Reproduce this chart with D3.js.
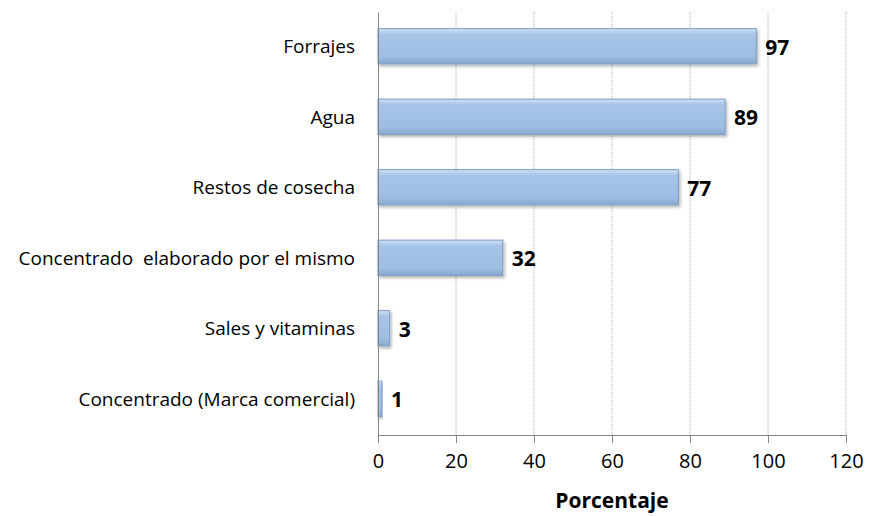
<!DOCTYPE html>
<html>
<head>
<meta charset="utf-8">
<script src="https://cdn.jsdelivr.net/npm/d3@7"></script>
<style>
  body { margin: 0; background: #fff; }
  svg { font-family: "Open Sans", Lato, sans-serif; }
</style>
</head>
<body>
<svg id="chart" width="870" height="516"></svg>
<script>
// categories top to bottom
const categories = [
    "Forrajes",
    "Agua",
    "Restos de cosecha",
    "Concentrado  elaborado por el mismo",
    "Sales y vitaminas",
    "Concentrado (Marca comercial)"
];
const values = [97, 89, 77, 32, 3, 1];
const xTicks = [0, 20, 40, 60, 80, 100, 120];
const xTitle = "Porcentaje";

const svg = d3.select("svg#chart");
const margin = {top: 12, right: 24, bottom: 81, left: 378};
const width = 870 - margin.left - margin.right,
      height = 516 - margin.top - margin.bottom;

const defs = svg.append("defs");
const grad = defs.append("linearGradient")
    .attr("id", "barGrad")
    .attr("x1", 0).attr("y1", 0).attr("x2", 0).attr("y2", 1);
grad.append("stop").attr("offset", "0%").attr("stop-color", "#d0e2f5");
grad.append("stop").attr("offset", "15%").attr("stop-color", "#a8c5e8");
grad.append("stop").attr("offset", "80%").attr("stop-color", "#9dbde2");
grad.append("stop").attr("offset", "100%").attr("stop-color", "#86a7d0");

const shadow = defs.append("filter").attr("id", "shadow")
    .attr("x", "-10%").attr("y", "-20%").attr("width", "130%").attr("height", "160%");
shadow.append("feDropShadow")
    .attr("dx", 1.5).attr("dy", 2).attr("stdDeviation", 1.5)
    .attr("flood-color", "#000").attr("flood-opacity", 0.3);

const g = svg.append("g")
    .attr("transform", `translate(${margin.left},${margin.top})`);

const x = d3.scaleLinear().domain([0, 120]).range([0, width]);
const y = d3.scaleBand().domain(categories).range([0, height])
    .paddingInner(0.5).paddingOuter(0.25);

// grid lines
g.append("g")
    .selectAll("line")
    .data(xTicks.slice(1))
    .join("line")
        .attr("x1", d => x(d)).attr("x2", d => x(d))
        .attr("y1", 0).attr("y2", height)
        .attr("stroke", "#b0b0b0")
        .attr("stroke-width", 1)
        .attr("stroke-dasharray", "1,1");

// bars
g.append("g")
    .selectAll("rect")
    .data(values)
    .join("rect")
        .attr("x", x(0))
        .attr("y", (d, i) => y(categories[i]) - 1)
        .attr("width", d => x(d))
        .attr("height", y.bandwidth())
        .attr("fill", "url(#barGrad)")
        .attr("stroke", "#7d9dc7")
        .attr("stroke-width", 1)
        .attr("filter", "url(#shadow)");

// value labels
g.append("g")
    .selectAll("text")
    .data(values)
    .join("text")
        .attr("x", d => x(d) + 9)
        .attr("y", (d, i) => y(categories[i]) + y.bandwidth() / 2)
        .attr("dy", "0.36em")
        .attr("font-size", 21)
        .attr("font-weight", "bold")
        .attr("fill", "#000")
        .text(d => d);

// x axis
const xAxis = g.append("g")
    .attr("transform", `translate(0,${height})`)
    .call(d3.axisBottom(x).tickValues(xTicks).tickSize(8).tickPadding(11));
xAxis.select(".domain").attr("stroke", "#868686");
xAxis.selectAll(".tick line").attr("stroke", "#868686");
xAxis.selectAll("text")
    .attr("font-family", "'Open Sans', Lato, sans-serif")
    .attr("font-size", 20)
    .attr("fill", "#000");

// y axis
const yAxis = g.append("g")
    .call(d3.axisLeft(y).tickSize(0).tickPadding(23));
yAxis.select(".domain").attr("stroke", "#868686");
yAxis.selectAll("text")
    .attr("font-family", "'Open Sans', Lato, sans-serif")
    .attr("font-size", 19)
    .attr("fill", "#000")
    .style("white-space", "pre");

// x title
svg.append("text")
    .attr("x", margin.left + width / 2)
    .attr("y", 508)
    .attr("text-anchor", "middle")
    .attr("font-size", 21)
    .attr("font-weight", "bold")
    .attr("fill", "#000")
    .text(xTitle);
</script>
</body>
</html>
